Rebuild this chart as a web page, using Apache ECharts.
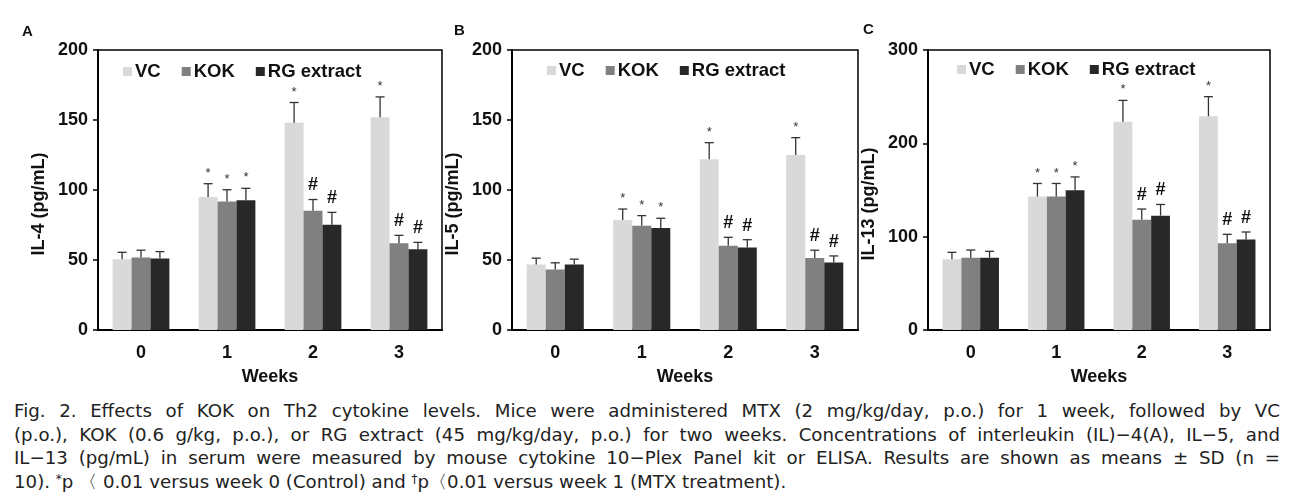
<!DOCTYPE html>
<html>
<head>
<meta charset="utf-8">
<script src="https://cdn.jsdelivr.net/npm/echarts@6/dist/echarts.min.js"></script>
<style>
  html, body { margin: 0; padding: 0; background: #fff; }
  #wrap { position: relative; width: 1293px; height: 504px; overflow: hidden; }
  #chart { position: absolute; left: 0; top: 0; width: 1293px; height: 392px; }
  #caption { position: absolute; left: 14px; top: 399px; width: 1266px;
    font-family: "DejaVu Sans", sans-serif; font-size: 18.2px; color: #222; }
  #caption div { height: 23.7px; line-height: 23.7px; white-space: nowrap; text-align: justify; text-align-last: justify; }
  #caption div.last { text-align-last: left; }
  sup { font-size: 12px; vertical-align: 5px; line-height: 0; }
</style>
</head>
<body>
<div id="wrap">
  <div id="chart"></div>
  <div id="caption">
    <div>Fig. 2. Effects of KOK on Th2 cytokine levels. Mice were administered MTX (2 mg/kg/day, p.o.) for 1 week, followed by VC</div>
    <div>(p.o.), KOK (0.6 g/kg, p.o.), or RG extract (45 mg/kg/day, p.o.) for two weeks. Concentrations of interleukin (IL)−4(A), IL−5, and</div>
    <div>IL−13 (pg/mL) in serum were measured by mouse cytokine 10−Plex Panel kit or ELISA. Results are shown as means ± SD (n =</div>
    <div class="last">10). <sup>*</sup>p 〈 0.01 versus week 0 (Control) and <sup>†</sup>p〈0.01 versus week 1 (MTX treatment).</div>
  </div>
</div>
<script>
// ---- data ----
const weeks = ['0', '1', '2', '3'];
const groups = ['VC', 'KOK', 'RG extract'];

const il4VC = [50.5, 95, 148, 152];
const il4VCsd = [5, 9.5, 14.5, 14.5];
const il4KOK = [51.7, 91.7, 85.2, 62];
const il4KOKsd = [5.3, 8.5, 8, 5.6];
const il4RG = [51, 92.6, 75.2, 57.6];
const il4RGsd = [5, 8.6, 8.8, 5];

const il5VC = [46.8, 78.6, 122, 125];
const il5VCsd = [4.5, 7.8, 11.8, 12.4];
const il5KOK = [43.3, 74.5, 60.2, 51.4];
const il5KOKsd = [4.7, 7.2, 6, 5.6];
const il5RG = [46.8, 72.9, 59, 48.3];
const il5RGsd = [3.8, 6.9, 5.5, 4.6];

const il13VC = [75.7, 143, 223, 229];
const il13VCsd = [7.5, 14, 23, 21];
const il13KOK = [77.5, 143, 118, 93];
const il13KOKsd = [8.2, 14, 11.6, 9.5];
const il13RG = [77.5, 149.6, 122.5, 97];
const il13RGsd = [6.8, 14.4, 12, 8];

const marksVC = ['', '*', '*', '*'];
const marksKOK = ['', '*', '#', '#'];
const marksRG = ['', '*', '#', '#'];

const yTitles = ['IL-4 (pg/mL)', 'IL-5 (pg/mL)', 'IL-13 (pg/mL)'];
const yMax = [200, 200, 300];
const yInterval = [50, 50, 100];
const panelLetters = ['A', 'B', 'C'];

// ---- styling ----
const colors = ['#d9d9d9', '#808080', '#282828'];
const FONT = 'Liberation Sans, Arial, Helvetica, sans-serif';
const catGap = 0.34;
const grids = [
  { left: 98, top: 50, width: 344, height: 280 },
  { left: 512, top: 50, width: 346, height: 280 },
  { left: 928, top: 50, width: 342, height: 280 }
];
const legendPos = [
  { left: 118, top: 57 },
  { left: 542, top: 56 },
  { left: 952, top: 55 }
];
const letterPos = [[22, 32], [454, 31], [863, 30]];

const panels = [
  { means: [il4VC, il4KOK, il4RG], sds: [il4VCsd, il4KOKsd, il4RGsd] },
  { means: [il5VC, il5KOK, il5RG], sds: [il5VCsd, il5KOKsd, il5RGsd] },
  { means: [il13VC, il13KOK, il13RG], sds: [il13VCsd, il13KOKsd, il13RGsd] }
];
const marks = [marksVC, marksKOK, marksRG];

const series = [];
panels.forEach((p, pi) => {
  groups.forEach((g, gi) => {
    series.push({
      name: g, type: 'bar', xAxisIndex: pi, yAxisIndex: pi,
      data: p.means[gi], barGap: '0%', barCategoryGap: (catGap * 100) + '%',
      itemStyle: { color: colors[gi] }, silent: true, z: 2
    });
  });
  groups.forEach((g, gi) => {
    series.push({
      name: g, type: 'custom', xAxisIndex: pi, yAxisIndex: pi, z: 3, silent: true,
      data: weeks.map((w, wi) => [wi, p.means[gi][wi], p.sds[gi][wi]]),
      renderItem: function (params, api) {
        const cat = api.value(0), m = api.value(1), sd = api.value(2);
        const band = api.size([1, 0])[0];
        const bw = band * (1 - catGap) / 3;
        const base = api.coord([cat, m]);
        const top = api.coord([cat, m + sd]);
        const x = base[0] + (gi - 1) * bw;
        const mk = marks[gi][params.dataIndex];
        const children = [
          { type: 'line', shape: { x1: x, y1: base[1], x2: x, y2: top[1] }, style: { stroke: '#333', lineWidth: 1.3 } },
          { type: 'line', shape: { x1: x - 4.5, y1: top[1], x2: x + 4.5, y2: top[1] }, style: { stroke: '#333', lineWidth: 1.3 } }
        ];
        if (mk === '*') {
          children.push({ type: 'text', style: { text: '*', x: x, y: top[1] - 4, align: 'center', verticalAlign: 'bottom', font: '13px ' + FONT, fill: '#333' } });
        } else if (mk === '#') {
          children.push({ type: 'text', style: { text: '#', x: x, y: top[1] - 5, align: 'center', verticalAlign: 'bottom', font: 'bold 18px ' + FONT, fill: '#111' } });
        }
        return { type: 'group', children: children };
      }
    });
  });
});

const option = {
  animation: false,
  backgroundColor: '#fff',
  grid: grids.map(g => Object.assign({ show: true, borderColor: '#000', borderWidth: 1.5, backgroundColor: 'transparent' }, g)),
  xAxis: grids.map((g, i) => ({
    type: 'category', gridIndex: i, data: weeks,
    name: 'Weeks', nameLocation: 'middle', nameGap: 38,
    nameTextStyle: { fontFamily: FONT, fontWeight: 'bold', fontSize: 18, color: '#111' },
    axisLine: { lineStyle: { color: '#000', width: 2 } },
    axisTick: { show: false },
    axisLabel: { fontFamily: FONT, fontWeight: 'bold', fontSize: 18, color: '#111', margin: 14 }
  })),
  yAxis: grids.map((g, i) => ({
    type: 'value', gridIndex: i, min: 0, max: yMax[i], interval: yInterval[i],
    name: yTitles[i], nameLocation: 'middle', nameGap: 50,
    nameTextStyle: { fontFamily: FONT, fontWeight: 'bold', fontSize: 18, color: '#111', padding: [0, 28, 0, 0] },
    axisLine: { show: true, lineStyle: { color: '#000', width: 2 } },
    axisTick: { show: true, length: 5, lineStyle: { color: '#000', width: 1.5 } },
    splitLine: { show: false },
    axisLabel: { fontFamily: FONT, fontWeight: 'bold', fontSize: 18, color: '#111', margin: 10 }
  })),
  legend: legendPos.map(lp => ({
    left: lp.left, top: lp.top, data: groups, icon: 'rect', itemWidth: 9, itemHeight: 9,
    itemGap: 21, selectedMode: false,
    textStyle: { fontFamily: FONT, fontWeight: 'bold', fontSize: 18.5, color: '#111', padding: [0, 0, 0, -2] }
  })),
  graphic: panelLetters.map((t, i) => ({
    type: 'text', left: letterPos[i][0], top: letterPos[i][1] - 8,
    style: { text: t, font: 'bold 15px ' + FONT, fill: '#111' }
  })),
  series: series
};

const chart = echarts.init(document.getElementById('chart'), null, { renderer: 'canvas' });
chart.setOption(option);
</script>
</body>
</html>
